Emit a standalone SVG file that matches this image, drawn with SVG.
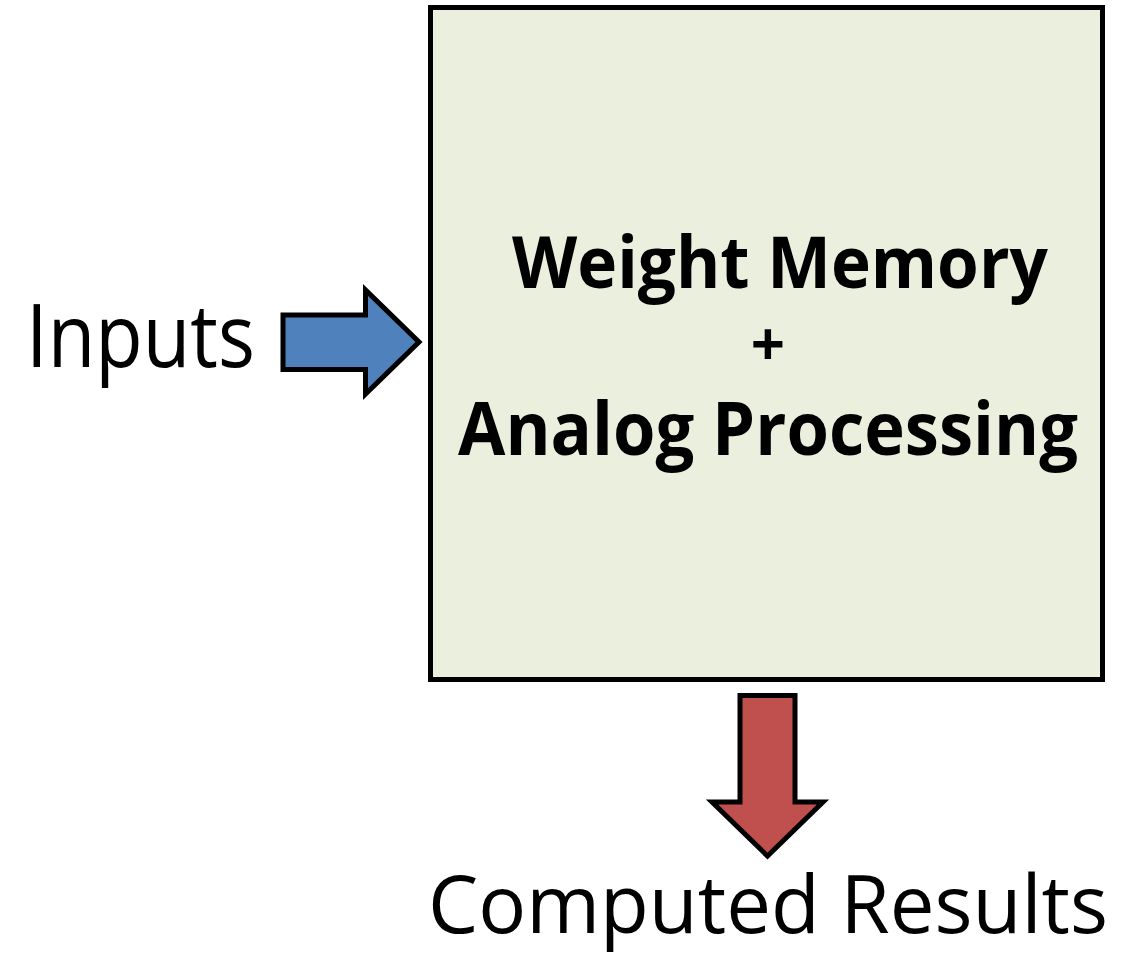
<svg xmlns="http://www.w3.org/2000/svg" width="1134" height="956" viewBox="0 0 1134 956">
  <style>
    .outline { stroke: #000; stroke-width: 5; stroke-linejoin: miter; }
    .label { font-family: "Open Sans", "DejaVu Sans", sans-serif; fill: #000; }
    .bold { font-weight: bold; }
  </style>
  <rect width="1134" height="956" fill="#fff"/>

  <g id="processor">
    <rect class="outline" x="430.5" y="7.5" width="672" height="672" fill="#EBEFDE"/>
    <text class="label bold" x="512" y="288" font-size="72" textLength="536" lengthAdjust="spacingAndGlyphs">Weight Memory</text>
    <text class="label bold" x="768" y="366" font-size="60" text-anchor="middle">+</text>
    <text class="label bold" x="458" y="455" font-size="74" textLength="620" lengthAdjust="spacingAndGlyphs">Analog Processing</text>
  </g>

  <g id="inputs">
    <text class="label" x="26" y="367" font-size="87" textLength="229" lengthAdjust="spacingAndGlyphs">Inputs</text>
  </g>

  <g id="results">
    <text class="label" x="428" y="933" font-size="80" textLength="680" lengthAdjust="spacingAndGlyphs">Computed Results</text>
  </g>

  <g id="connectors">
    <path class="outline" fill="#4F81BD" d="M283,315 H365.5 V290 L419,342 L365.5,394 V369.5 H283 Z"/>
    <path class="outline" fill="#C0504D" d="M740,695.5 H795 V802 H823 L767.5,856 L712,802 H740 Z"/>
  </g>
</svg>
